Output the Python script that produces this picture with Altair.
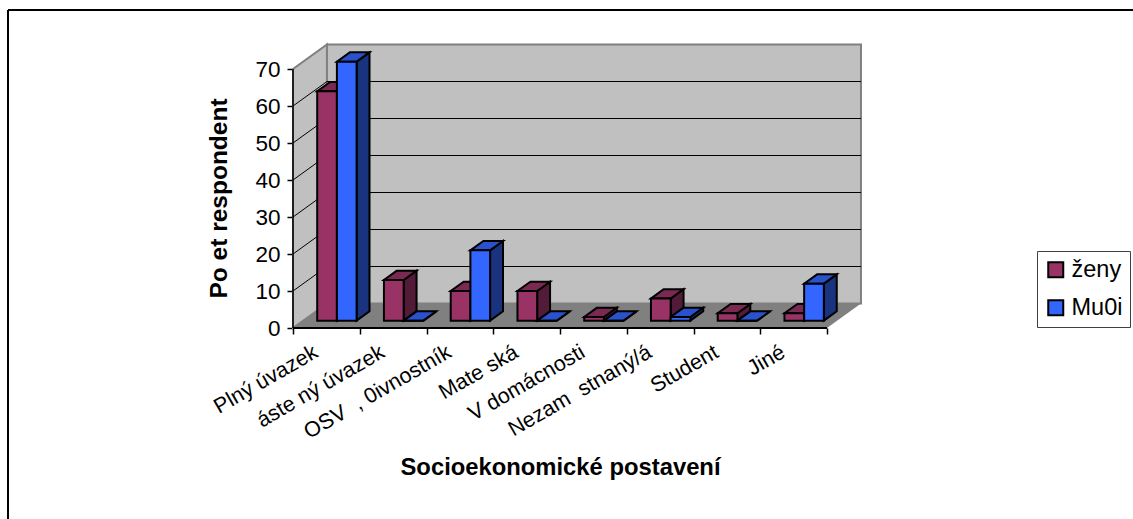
import altair as alt
import pandas as pd

categories = ["Plný úvazek", "áste ný úvazek", "OSV\u00a0\u00a0, 0ivnostník", "Mate ská",
              "V domácnosti", "Nezam\u00a0 stnaný/á", "Student", "Jiné"]
zeny = [62, 11, 8, 8, 1, 6, 2, 2]
muzi = [70, 0, 19, 0, 0, 1, 0, 10]
y_ticks = [0, 10, 20, 30, 40, 50, 60, 70]
series_names = ["ženy", "Mu0i"]
front_colors = ["#993366", "#3366ff"]
top_colors = ["#7a2952", "#2952cc"]
side_colors = ["#521b37", "#19337f"]

# Oblique projection of the 3D box, in data units
DX, DY = 0.509, 6.62          # shift of the back wall relative to the front plane
BAR_NEAR, BAR_FAR = 0.30, 0.68  # depth range taken up by the bars
BAR_START, BAR_W = 0.21, 0.295  # bar placement inside a category slot
X_DOMAIN = [0, 568 / 66.75]
Y_DOMAIN = [0, 284 / 3.7]

x_scale = alt.Scale(domain=X_DOMAIN, nice=False, zero=False)
y_scale = alt.Scale(domain=Y_DOMAIN, nice=False)
x_axis = alt.Axis(values=list(range(9)), domain=False, grid=False, labels=False, tickColor="#000000",
                  tickSize=6, tickWidth=1.5, titleFont="Liberation Sans", titleFontSize=23.8,
                  titleFontWeight="bold", titleColor="#000000", titleX=267, titleY=127)
y_axis = alt.Axis(values=y_ticks, domain=False, grid=False, tickColor="#000000", tickSize=6,
                  tickWidth=1.5, labelFont="Liberation Sans", labelFontSize=22.5, labelColor="#000000",
                  labelPadding=7, titleFont="Liberation Sans", titleFontSize=24.5, titleFontWeight="bold",
                  titleColor="#000000", titleX=-62, titleY=154)
x_title = "Socioekonomické postavení"
y_title = "Po et respondent"
xq = lambda: alt.X("x:Q", scale=x_scale, title=x_title, axis=x_axis)
yq = lambda: alt.Y("y:Q", scale=y_scale, title=y_title, axis=y_axis)

# Walls and floor
left_wall = pd.DataFrame({"x": [0, DX], "y": [0, DY], "y2": [70, 70 + DY]})
floor = pd.DataFrame({"x": [0, DX], "x2": [8, 8 + DX], "y": [0, DY]})
back_wall = pd.DataFrame({"x": [DX], "x2": [8 + DX], "y": [DY], "y2": [70 + DY]})

wall_layers = [
    alt.Chart(left_wall).mark_area(orient="vertical", color="#c0c0c0", stroke="#808080", strokeWidth=2)
    .encode(x=xq(), y=yq(), y2="y2:Q"),
    alt.Chart(back_wall).mark_rect(color="#c0c0c0", stroke="#808080", strokeWidth=2)
    .encode(x=xq(), x2="x2:Q", y=yq(), y2="y2:Q"),
    alt.Chart(floor).mark_area(orient="horizontal", color="#808080")
    .encode(x=xq(), x2="x2:Q", y=yq()),
]

# Gridlines on the back wall and across the left wall
grid_rows = []
for v in y_ticks[1:-1]:
    grid_rows += [{"v": v, "x": 0, "y": v}, {"v": v, "x": DX, "y": v + DY}, {"v": v, "x": 8 + DX, "y": v + DY}]
grid = alt.Chart(pd.DataFrame(grid_rows)).mark_line(color="#000000", strokeWidth=1).encode(
    x=xq(), y=yq(), detail="v:N")

# Bars: one row per visible face
front_rows, top_rows, side_rows = [], [], []
for s, values in enumerate([zeny, muzi]):
    for c, v in enumerate(values):
        x0 = c + BAR_START + s * BAR_W + BAR_NEAR * DX
        x1 = x0 + BAR_W
        y_base = BAR_NEAR * DY
        d = BAR_FAR * DX - BAR_NEAR * DX
        e = BAR_FAR * DY - BAR_NEAR * DY
        front_rows.append({"series": series_names[s], "x": x0, "x2": x1, "y": y_base, "y2": y_base + v})
        top_rows += [{"s": s, "c": c, "x": x0, "x2": x1, "y": y_base + v},
                     {"s": s, "c": c, "x": x0 + d, "x2": x1 + d, "y": y_base + v + e}]
        side_rows += [{"s": s, "c": c, "x": x1, "y": y_base, "y2": y_base + v},
                      {"s": s, "c": c, "x": x1 + d, "y": y_base + e, "y2": y_base + v + e}]
tops = pd.DataFrame(top_rows)
sides = pd.DataFrame(side_rows)

bar_layers = []
for s in range(2):
    bar_layers.append(
        alt.Chart(sides[sides.s == s]).mark_area(orient="vertical", color=side_colors[s], stroke="#000000", strokeWidth=2)
        .encode(x=xq(), y=yq(), y2="y2:Q", detail="c:N"))
    bar_layers.append(
        alt.Chart(tops[tops.s == s]).mark_area(orient="horizontal", color=top_colors[s], stroke="#000000", strokeWidth=2)
        .encode(x=xq(), x2="x2:Q", y=yq(), detail="c:N"))

fronts = alt.Chart(pd.DataFrame(front_rows)).mark_rect(stroke="#000000", strokeWidth=2).encode(
    x=xq(), x2="x2:Q", y=yq(), y2="y2:Q",
    color=alt.Color("series:N", scale=alt.Scale(domain=series_names, range=front_colors), title=None,
                    legend=alt.Legend(orient="none", legendX=744, legendY=207, fillColor="#ffffff",
                                      strokeColor="#404040", padding=7, symbolType="square", symbolSize=225,
                                      symbolStrokeColor="#000000", symbolStrokeWidth=2, labelFont="Liberation Sans",
                                      labelFontSize=23.5, labelColor="#000000", rowPadding=13, labelOffset=4)))

# Axis lines stop at the box edges, so they are drawn apart from the axes
y_line = alt.Chart(pd.DataFrame({"y": [0], "y2": [70]})).mark_rule(color="#000000", strokeWidth=1.5).encode(
    x=alt.value(0), y=yq(), y2="y2:Q")
x_line = alt.Chart(pd.DataFrame({"x": [0], "x2": [8]})).mark_rule(color="#000000", strokeWidth=2).encode(
    y=alt.value(284), x=xq(), x2="x2:Q")

tick_labels = alt.Chart(pd.DataFrame({"label": categories, "x": [i + 0.35 for i in range(8)]})).mark_text(
    angle=330, align="right", baseline="middle", font="Liberation Sans", fontSize=21.5, color="#000000"
).encode(x=xq(), y=alt.value(307), text="label:N")

# Chart frame: only the top and left edges show
frame_top = alt.Chart(pd.DataFrame({"a": [0]})).mark_rule(color="#000000", strokeWidth=2).encode(
    x=alt.value(-285), x2=alt.value(840), y=alt.value(-34))
frame_left = alt.Chart(pd.DataFrame({"a": [0]})).mark_rule(color="#000000", strokeWidth=2).encode(
    x=alt.value(-285), y=alt.value(-34), y2=alt.value(475))

chart = alt.layer(frame_top, frame_left, *wall_layers, grid, *bar_layers, fronts, y_line, x_line, tick_labels).properties(
    width=568, height=284,
    padding={"left": 293, "top": 44, "right": 272, "bottom": 191},
    autosize="none", background="#ffffff",
).configure_view(stroke=None)

chart.save("out.html", embed_options={"renderer": "svg", "actions": False})
